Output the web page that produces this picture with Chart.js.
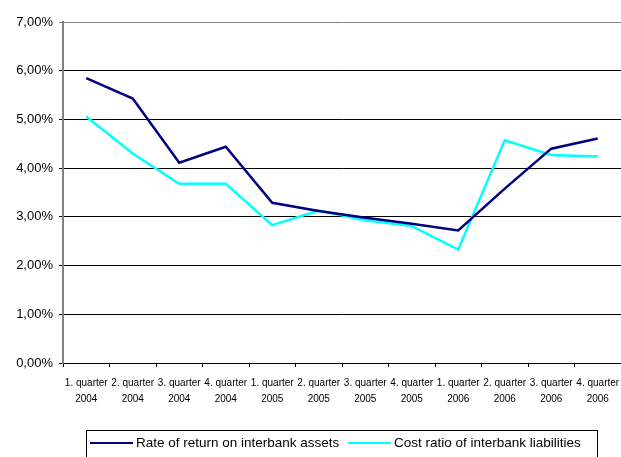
<!DOCTYPE html>
<html>
<head>
<meta charset="utf-8">
<script src="https://cdn.jsdelivr.net/npm/chart.js@4.4.1/dist/chart.umd.min.js"></script>
<style>
  html, body { margin: 0; padding: 0; background: #fff; }
  #wrap { width: 621px; height: 457px; }
</style>
</head>
<body>
<div id="wrap"><canvas id="chart" width="621" height="457"></canvas></div>
<script>
const quarters = ["1. quarter", "2. quarter", "3. quarter", "4. quarter"];
const years = ["2004", "2005", "2006"];
const labels = [];
years.forEach((y) => quarters.forEach((q) => labels.push([q, y])));

const assetsLabel = "Rate of return on interbank assets";
const liabilitiesLabel = "Cost ratio of interbank liabilities";
const assetsRate = [5.85, 5.43, 4.11, 4.44, 3.29, 3.12, 2.98, 2.86, 2.72, 3.58, 4.40, 4.61];
const liabilitiesRate = [5.06, 4.30, 3.68, 3.68, 2.83, 3.13, 2.93, 2.81, 2.33, 4.57, 4.27, 4.24];

const FONT = "'Liberation Sans', Arial, sans-serif";

// legend drawn by hand so it gets the framed box
const boxLegend = {
  id: "boxLegend",
  afterDraw(chart) {
    const ctx = chart.ctx;
    ctx.save();
    ctx.strokeStyle = "#000";
    ctx.lineWidth = 1;
    ctx.strokeRect(86.5, 430.5, 511, 40);
    ctx.font = "13.5px " + FONT;
    ctx.textBaseline = "middle";
    ctx.fillStyle = "#000";
    const starts = [90, 348];
    const y = 443;
    chart.data.datasets.forEach((ds, i) => {
      const x = starts[i];
      ctx.strokeStyle = ds.borderColor;
      ctx.lineWidth = 2;
      ctx.beginPath();
      ctx.moveTo(x, y);
      ctx.lineTo(x + 43, y);
      ctx.stroke();
      ctx.fillText(ds.label, x + 46, y);
    });
    ctx.restore();
  },
};

new Chart(document.getElementById("chart"), {
  type: "line",
  data: {
    labels: labels,
    datasets: [
      {
        label: assetsLabel,
        data: assetsRate,
        borderColor: "#000080",
        backgroundColor: "#000080",
        borderWidth: 2.5,
        pointRadius: 0,
        tension: 0,
      },
      {
        label: liabilitiesLabel,
        data: liabilitiesRate,
        borderColor: "#00FFFF",
        backgroundColor: "#00FFFF",
        borderWidth: 2.5,
        pointRadius: 0,
        tension: 0,
      },
    ],
  },
  options: {
    responsive: false,
    animation: false,
    layout: { padding: { top: 22, right: 0, left: 0, bottom: 0 } },
    plugins: {
      legend: { display: false },
      tooltip: { enabled: false },
    },
    scales: {
      x: {
        offset: true,
        grid: {
          offset: true,
          drawOnChartArea: false,
          drawTicks: true,
          tickLength: 4,
          color: "#000",
        },
        border: { color: "#000", width: 1 },
        ticks: {
          maxRotation: 0,
          autoSkip: false,
          padding: 8,
          color: "#000",
          font: { family: FONT, size: 10, lineHeight: 1.6 },
        },
        afterFit(scale) {
          scale.height = 94;
          scale.paddingLeft = 0;
          scale.paddingRight = 0;
        },
      },
      y: {
        min: 0,
        max: 7,
        grid: {
          color: (c) => (c.tick && c.tick.value === 7 ? "#808080" : "#000"),
          tickLength: 4,
          lineWidth: 1,
        },
        border: { color: "#808080", width: 2 },
        ticks: {
          stepSize: 1,
          padding: 6,
          color: "#000",
          font: { family: FONT, size: 13 },
          callback: (v) => v.toFixed(2).replace(".", ",") + "%",
        },
        afterFit(scale) {
          scale.width = 63;
        },
      },
    },
  },
  plugins: [boxLegend],
});
</script>
</body>
</html>
